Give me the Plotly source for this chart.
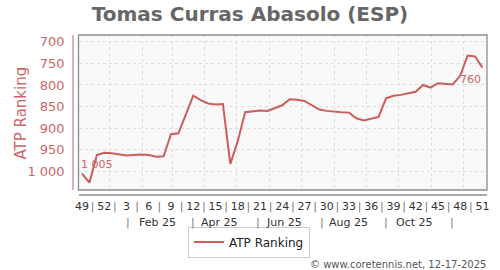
import datetime as dt
import plotly.graph_objects as go

# ---- data ----
iso_years = [2024] * 4 + [2025] * 51
iso_weeks = [49, 50, 51, 52] + list(range(1, 52))
rankings = [1005, 1026, 962, 957, 958, 960, 963, 962, 961, 962,
            966, 965, 914, 912, 868, 825, 835, 843, 845, 844,
            983, 930, 863, 861, 859, 860, 854, 847, 833, 834,
            837, 847, 857, 860, 862, 863, 864, 877, 882, 878,
            874, 831, 825, 823, 820, 816, 800, 806, 796, 797,
            799, 779, 732, 734, 760]
y_tick_vals = [700, 750, 800, 850, 900, 950, 1000]
y_tick_text = ["700", "750", "800", "850", "900", "950", "1 000"]
week_label_years = [2024, 2024] + [2025] * 17
week_label_weeks = [49, 52] + list(range(3, 52, 3))
period_labels = ["Feb 25", "Apr 25", "Jun 25", "Aug 25", "Oct 25"]
period_label_dates = ["2025-02-15", "2025-04-15", "2025-06-15", "2025-08-15", "2025-10-16"]
period_sep_dates = ["2025-01-18", "2025-03-21", "2025-05-21", "2025-07-21", "2025-09-19", "2025-11-20"]
month_grid = ["2025-%02d-01" % m for m in range(1, 13)]

dates = [dt.date.fromisocalendar(y, w, 5) for y, w in zip(iso_years, iso_weeks)]

LINE = "#cd5c5c"
PINK = "#cc6666"
FONT = "DejaVu Sans"

# week tick labels with separators between them
label_dates = [dt.date.fromisocalendar(y, w, 5) for y, w in zip(week_label_years, week_label_weeks)]
tickvals, ticktext = [], []
for i, d in enumerate(label_dates):
    tickvals.append(d)
    ticktext.append(str(week_label_weeks[i]))
    if i < len(label_dates) - 1:
        tickvals.append(d + dt.timedelta(days=10.5))
        ticktext.append("<span style='color:#777'>|</span>")

fig = go.Figure()
fig.add_trace(go.Scatter(
    x=dates, y=rankings, mode="lines", name="ATP Ranking",
    line=dict(color=LINE, width=2), hoverinfo="skip"))

W_PAPER = 500 - 73 - 13
H_PAPER = 270 - 35 - 75

fig.update_layout(
    width=500, height=270,
    margin=dict(l=73, r=13, t=35, b=75),
    paper_bgcolor="white",
    plot_bgcolor="#f9f9f9",
    font=dict(family=FONT, color="#333"),
    title=dict(text="<b>Tomas Curras Abasolo (ESP)</b>", x=0.5, xanchor="center",
               y=1 - 14 / 270, yanchor="middle", yref="container",
               font=dict(size=20, color="#666", family=FONT)),
    showlegend=True,
    legend=dict(orientation="h", x=(249 - 73) / W_PAPER, xanchor="center",
                y=-(242 - 195) / H_PAPER,
                yanchor="middle", bordercolor="#cccccc", borderwidth=1,
                font=dict(size=12, color="#222"), itemwidth=30),
    xaxis=dict(
        type="date", domain=[5.5 / W_PAPER, 1], anchor="free", position=0,
        range=["2024-12-02 16:00", "2025-12-23 08:00"],
        tickmode="array", tickvals=tickvals, ticktext=ticktext, tickangle=0,
        tickfont=dict(size=11, color="#333"), ticks="", ticklabelstandoff=1,
        showgrid=False, zeroline=False,
        showline=True, linecolor="#aaaaaa", linewidth=1.5,
        minor=dict(tickmode="array", tickvals=month_grid, showgrid=True,
                   gridcolor="#dddddd", griddash="3px,3px", gridwidth=1, ticks=""),
    ),
    yaxis=dict(
        domain=[5 / H_PAPER, 1], anchor="free", position=0,
        range=[1043, 684.5],
        tickmode="array", tickvals=y_tick_vals, ticktext=y_tick_text,
        tickfont=dict(size=13, color=PINK), ticks="", ticklabelstandoff=5,
        showgrid=True, gridcolor="#dddddd", griddash="3px,3px", gridwidth=1,
        zeroline=False, showline=True, linecolor="#e2b0b0", linewidth=1.5,
    ),
    shapes=[dict(type="rect", xref="x domain", yref="y domain", x0=0, x1=1, y0=0, y1=1,
                 line=dict(color="#8c8c8c", width=1.3), layer="above")],
)

ann = []
ann.append(dict(text="ATP Ranking", xref="paper", yref="paper",
                x=(20 - 73) / W_PAPER, y=(195 - 112.5) / H_PAPER, textangle=-90,
                showarrow=False, xanchor="center", yanchor="middle",
                font=dict(size=15, color=PINK, family=FONT)))
for lab, d in zip(period_labels, period_label_dates):
    ann.append(dict(text=lab, xref="x", yref="paper", x=d, y=-(222 - 195) / H_PAPER,
                    showarrow=False, xanchor="center", yanchor="middle",
                    font=dict(size=11, color="#333", family=FONT)))
for d in period_sep_dates:
    ann.append(dict(text="|", xref="x", yref="paper", x=d, y=-(222 - 195) / H_PAPER,
                    showarrow=False, xanchor="center", yanchor="middle",
                    font=dict(size=11, color="#777", family=FONT)))
ann.append(dict(text="1 005", xref="x", yref="y", x=dates[0], y=rankings[0],
                showarrow=False, xanchor="left", yanchor="bottom", xshift=-3, yshift=1,
                font=dict(size=11, color=PINK, family=FONT)))
ann.append(dict(text="760", xref="x", yref="y", x=dates[-1], y=rankings[-1],
                showarrow=False, xanchor="right", yanchor="top", xshift=1, yshift=-3,
                font=dict(size=11, color=PINK, family=FONT)))
ann.append(dict(text="© www.coretennis.net, 12-17-2025", xref="paper", yref="paper",
                x=(488 - 73) / W_PAPER, y=-(264 - 195) / H_PAPER,
                showarrow=False, xanchor="right", yanchor="middle",
                font=dict(size=10, color="#555", family=FONT)))
fig.update_layout(annotations=ann)

fig.write_html("out.html")
